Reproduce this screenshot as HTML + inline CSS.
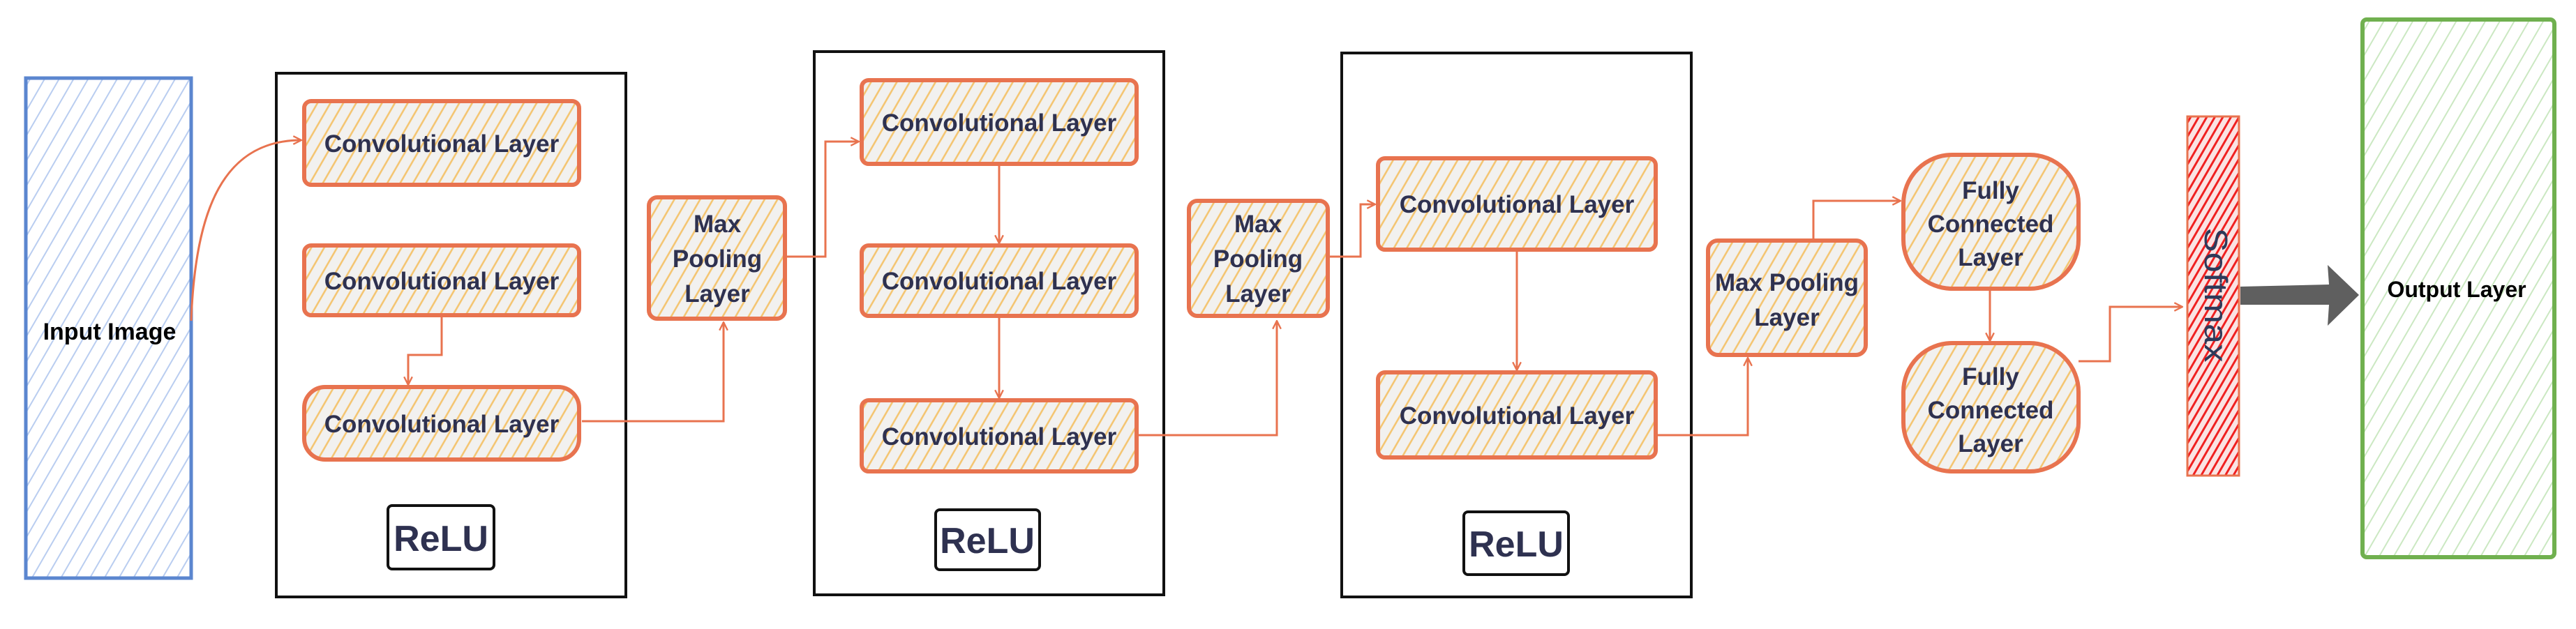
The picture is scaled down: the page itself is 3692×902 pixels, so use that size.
<!DOCTYPE html>
<html><head><meta charset="utf-8"><style>
html,body{margin:0;padding:0;background:#fff;}
svg{display:block}
.t{font-family:"Liberation Sans",Arial,sans-serif;font-weight:bold;fill:#2e3150;}
</style></head><body>
<svg width="3692" height="902" viewBox="0 0 3692 902" xmlns="http://www.w3.org/2000/svg">
<defs>
<pattern id="ho" width="16" height="16" patternUnits="userSpaceOnUse" patternTransform="rotate(30)">
<rect width="16" height="16" fill="#f2f1ef"/>
<line x1="4" y1="0" x2="4" y2="16" stroke="#f4c46e" stroke-width="2.5"/>
</pattern>
<pattern id="hb" width="18" height="18" patternUnits="userSpaceOnUse" patternTransform="rotate(30)">
<line x1="4" y1="0" x2="4" y2="18" stroke="#b9cdf0" stroke-width="2"/>
</pattern>
<pattern id="hg" width="18" height="18" patternUnits="userSpaceOnUse" patternTransform="rotate(30)">
<line x1="4" y1="0" x2="4" y2="18" stroke="#cbe8c2" stroke-width="2"/>
</pattern>
<pattern id="hr" width="10" height="10" patternUnits="userSpaceOnUse" patternTransform="rotate(30)">
<rect width="10" height="10" fill="#fbe3e3"/>
<line x1="3" y1="0" x2="3" y2="10" stroke="#f02020" stroke-width="3"/>
</pattern>
<marker id="ar" viewBox="0 0 12 12" refX="11" refY="6" markerWidth="14" markerHeight="14" markerUnits="userSpaceOnUse" orient="auto">
<path d="M1,1 L11,6 L1,11" fill="none" stroke="#e8734f" stroke-width="2"/>
</marker>
</defs>

<!-- Input -->
<rect x="37" y="112" width="237" height="717" fill="url(#hb)" stroke="#5b86cf" stroke-width="5"/>
<text x="157" y="487" text-anchor="middle" style="font-family:'Liberation Sans',Arial,sans-serif;font-weight:bold;font-size:34px;fill:#000">Input Image</text>

<!-- group boxes -->
<rect x="396" y="105" width="501" height="751" fill="none" stroke="#111" stroke-width="4"/>
<rect x="1167" y="74" width="501" height="779" fill="none" stroke="#111" stroke-width="4"/>
<rect x="1923" y="76" width="501" height="780" fill="none" stroke="#111" stroke-width="4"/>

<g stroke="#e8734f" stroke-width="6" fill="url(#ho)">
<rect x="436" y="145" width="394" height="120" rx="10"/>
<rect x="436" y="352" width="394" height="100" rx="10"/>
<rect x="436" y="555" width="394" height="104" rx="30"/>
<rect x="930" y="283" width="195" height="174" rx="12"/>
<rect x="1235" y="115" width="394" height="120" rx="10"/>
<rect x="1235" y="352" width="394" height="101" rx="10"/>
<rect x="1235" y="574" width="394" height="102" rx="10"/>
<rect x="1704" y="288" width="199" height="165" rx="12"/>
<rect x="1975" y="227" width="398" height="131" rx="10"/>
<rect x="1975" y="534" width="398" height="122" rx="10"/>
<rect x="2448" y="345" width="226" height="164" rx="14"/>
<rect x="2728" y="222" width="251" height="192" rx="70"/>
<rect x="2728" y="492" width="251" height="184" rx="70"/>
</g>

<g class="t" font-size="35" text-anchor="middle">
<text x="633" y="218">Convolutional Layer</text>
<text x="633" y="415">Convolutional Layer</text>
<text x="633" y="620">Convolutional Layer</text>
<text x="1432" y="188">Convolutional Layer</text>
<text x="1432" y="415">Convolutional Layer</text>
<text x="1432" y="638">Convolutional Layer</text>
<text x="2174" y="305">Convolutional Layer</text>
<text x="2174" y="608">Convolutional Layer</text>
<text x="1028" y="333">Max</text>
<text x="1028" y="383">Pooling</text>
<text x="1028" y="433">Layer</text>
<text x="1803" y="333">Max</text>
<text x="1803" y="383">Pooling</text>
<text x="1803" y="433">Layer</text>
<text x="2561" y="417">Max Pooling</text>
<text x="2561" y="467">Layer</text>
<text x="2853" y="285">Fully</text>
<text x="2853" y="333">Connected</text>
<text x="2853" y="381">Layer</text>
<text x="2853" y="552">Fully</text>
<text x="2853" y="600">Connected</text>
<text x="2853" y="648">Layer</text>
</g>

<!-- ReLU -->
<g fill="#fff" stroke="#111" stroke-width="4">
<rect x="556" y="725" width="152" height="91" rx="6"/>
<rect x="1341" y="731" width="149" height="86" rx="6"/>
<rect x="2098" y="734" width="150" height="90" rx="6"/>
</g>
<g class="t" font-size="52" text-anchor="middle">
<text x="632" y="790">ReLU</text>
<text x="1415" y="793">ReLU</text>
<text x="2173" y="798">ReLU</text>
</g>

<!-- connectors -->
<g fill="none" stroke="#e8734f" stroke-width="3" marker-end="url(#ar)">
<path d="M274,460 C280,300 320,201 432,201"/>
<path d="M633,452 L633,509 L585,509 L585,552"/>
<path d="M834,604 L1037,604 L1037,462"/>
<path d="M1125,368 L1183,368 L1183,203 L1231,203"/>
<path d="M1432,235 L1432,349"/>
<path d="M1432,453 L1432,571"/>
<path d="M1629,624 L1830,624 L1830,460"/>
<path d="M1903,368 L1950,368 L1950,293 L1971,293"/>
<path d="M2174,358 L2174,531"/>
<path d="M2373,624 L2505,624 L2505,513"/>
<path d="M2599,345 L2599,288 L2724,288"/>
<path d="M2852,414 L2852,489"/>
<path d="M2979,518 L3024,518 L3024,440 L3128,440"/>
</g>

<!-- Softmax -->
<rect x="3135" y="167" width="74" height="515" fill="url(#hr)" stroke="#e8734f" stroke-width="3"/>
<text transform="translate(3160,423) rotate(90)" text-anchor="middle" style="font-family:'Liberation Sans',Arial,sans-serif;font-size:46px;fill:#2e3a5a" textLength="193" lengthAdjust="spacingAndGlyphs">Softmax</text>

<!-- big arrow -->
<path d="M3211,411 L3338,408 L3336,380 L3381,423 L3336,467 L3338,437 L3211,437 Z" fill="#5f5f5f"/>

<!-- Output -->
<rect x="3386" y="28" width="275" height="771" rx="6" fill="url(#hg)" stroke="#70b04f" stroke-width="6"/>
<text x="3521" y="426" text-anchor="middle" style="font-family:'Liberation Sans',Arial,sans-serif;font-weight:bold;font-size:32px;fill:#000">Output Layer</text>
</svg>
</body></html>
